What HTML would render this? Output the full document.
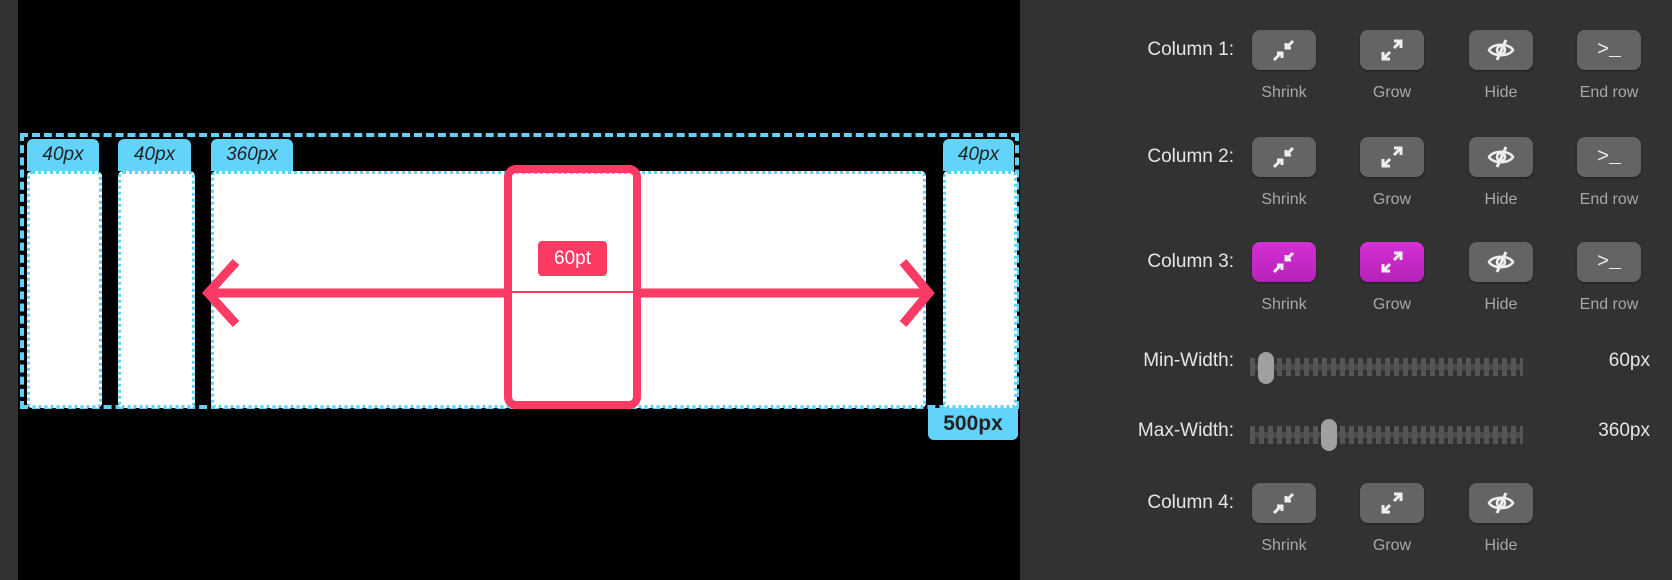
<!DOCTYPE html>
<html><head><style>
*{margin:0;padding:0;box-sizing:border-box}
body{width:1672px;height:580px;background:#323232;position:relative;overflow:hidden;font-family:"Liberation Sans",sans-serif}
.a{position:absolute}
.blk{left:18px;top:0;width:1002px;height:580px;background:#000}
.col{background:#fff;border:3px dotted #5fd3fb;border-radius:5px}
.tag{background:#62d4fc;border-radius:6px 6px 0 0;color:#222;font-style:italic;font-size:19px;text-align:center;line-height:32px}
.lbl{color:#e6e6e6;font-size:19px;text-align:right;width:200px}
.btn{width:64px;height:40px;background:#646464;border-radius:8px;box-shadow:0 1px 2px rgba(0,0,0,.4);display:flex;align-items:center;justify-content:center;color:#eee;font-size:20px}
.pink{background:linear-gradient(#d62fd6,#b423b8)}
.sub{color:#a8a8a8;font-size:16px;text-align:center;width:100px}
.val{color:#e6e6e6;font-size:19px;text-align:right;width:100px}
.bar{height:6px;background:#4a4a4a}
.ticks{height:18px;background:repeating-linear-gradient(90deg,#555 0 5px,transparent 5px 9px)}
.thumb{width:16px;height:32px;background:#a0a0a0;border-radius:8px}
</style></head><body>
<div class="a blk"></div>
<div class="a" style="left:20px;top:133px;width:999px;height:276px;border:4px dashed #5fd3fb"></div>
<div class="a tag" style="left:27px;top:139px;width:72px">40px</div>
<div class="a col" style="left:27px;top:171px;width:75px;height:237px"></div>
<div class="a tag" style="left:118px;top:139px;width:73px">40px</div>
<div class="a col" style="left:118px;top:171px;width:77px;height:237px"></div>
<div class="a tag" style="left:211px;top:139px;width:82px">360px</div>
<div class="a col" style="left:211px;top:171px;width:715px;height:237px"></div>
<div class="a tag" style="left:943px;top:139px;width:71px">40px</div>
<div class="a col" style="left:943px;top:171px;width:74px;height:237px"></div>
<div class="a" style="left:928px;top:408px;width:90px;height:32px;background:#62d4fc;border-radius:0 0 6px 6px;color:#222;font-weight:bold;font-size:21px;text-align:center;line-height:32px">500px</div>
<svg class="a" style="left:0;top:0" width="1020" height="580">
<g stroke="#fb3b63" stroke-width="9" fill="none">
<line x1="208" y1="293" x2="504" y2="293"/>
<line x1="641" y1="293" x2="928" y2="293"/>
<polyline points="236,262 208,293 236,324" stroke-linejoin="miter"/>
<polyline points="903,262 929,293 903,324"/>
</g>
<line x1="508" y1="292" x2="637" y2="292" stroke="#fb3b63" stroke-width="2"/>
<rect x="508" y="169" width="129" height="236" rx="8" stroke="#fb3b63" stroke-width="8" fill="none"/>
</svg>
<div class="a" style="left:538px;top:241px;width:69px;height:35px;background:#fb3b63;border-radius:4px;color:#fff;font-size:19px;text-align:center;line-height:35px">60pt</div>

<div class="a lbl" style="left:1034px;top:39px">Column 1:</div>
<div class="a lbl" style="left:1034px;top:146px">Column 2:</div>
<div class="a lbl" style="left:1034px;top:251px">Column 3:</div>
<div class="a lbl" style="left:1034px;top:350px">Min-Width:</div>
<div class="a lbl" style="left:1034px;top:420px">Max-Width:</div>
<div class="a lbl" style="left:1034px;top:492px">Column 4:</div>

<div id="rows"></div>
<div class="a bar" style="left:1250px;top:364px;width:273px"></div>
<div class="a ticks" style="left:1250px;top:358px;width:273px"></div>
<div class="a thumb" style="left:1258px;top:352px"></div>
<div class="a val" style="left:1550px;top:350px">60px</div>
<div class="a bar" style="left:1250px;top:432px;width:273px"></div>
<div class="a ticks" style="left:1250px;top:426px;width:273px"></div>
<div class="a thumb" style="left:1321px;top:419px"></div>
<div class="a val" style="left:1550px;top:420px">360px</div>

<script>
var xs=[1252,1360,1469,1577],names=["Shrink","Grow","Hide","End row"];
var ys=[30,137,242,483],h="";
var ic=[
'<svg width="26" height="26" viewBox="0 0 26 26" fill="none" stroke="#eee" stroke-width="3"><path d="M3 23L10 16M22 4L15 11"/><path d="M6 16h5v5M20 11h-5V6" /></svg>',
'<svg width="26" height="26" viewBox="0 0 26 26" fill="none" stroke="#eee" stroke-width="3"><path d="M4 22L11 15M22 4L15 11"/><path d="M4 15v7h7M22 11V4h-7"/></svg>',
'<svg width="30" height="24" viewBox="0 0 30 24" fill="none" stroke="#eee" stroke-width="2.5"><path d="M3 12C7 5 23 5 27 12C23 19 7 19 3 12Z"/><circle cx="15" cy="12" r="4"/><path d="M20 2L11 22" stroke-width="3"/></svg>',
'<span style="font-family:Liberation Mono,monospace;font-size:20px">&gt;_</span>'];
for(var r=0;r<4;r++){for(var c=0;c<4;c++){if(r==3&&c==3)continue;
var pk=(r==2&&c<2)?" pink":"";
h+='<div class="a btn'+pk+'" style="left:'+xs[c]+'px;top:'+ys[r]+'px">'+ic[c]+'</div>';
h+='<div class="a sub" style="left:'+(xs[c]-18)+'px;top:'+(ys[r]+54)+'px">'+names[c]+'</div>';}}
document.getElementById("rows").innerHTML=h;
</script>
</body></html>
